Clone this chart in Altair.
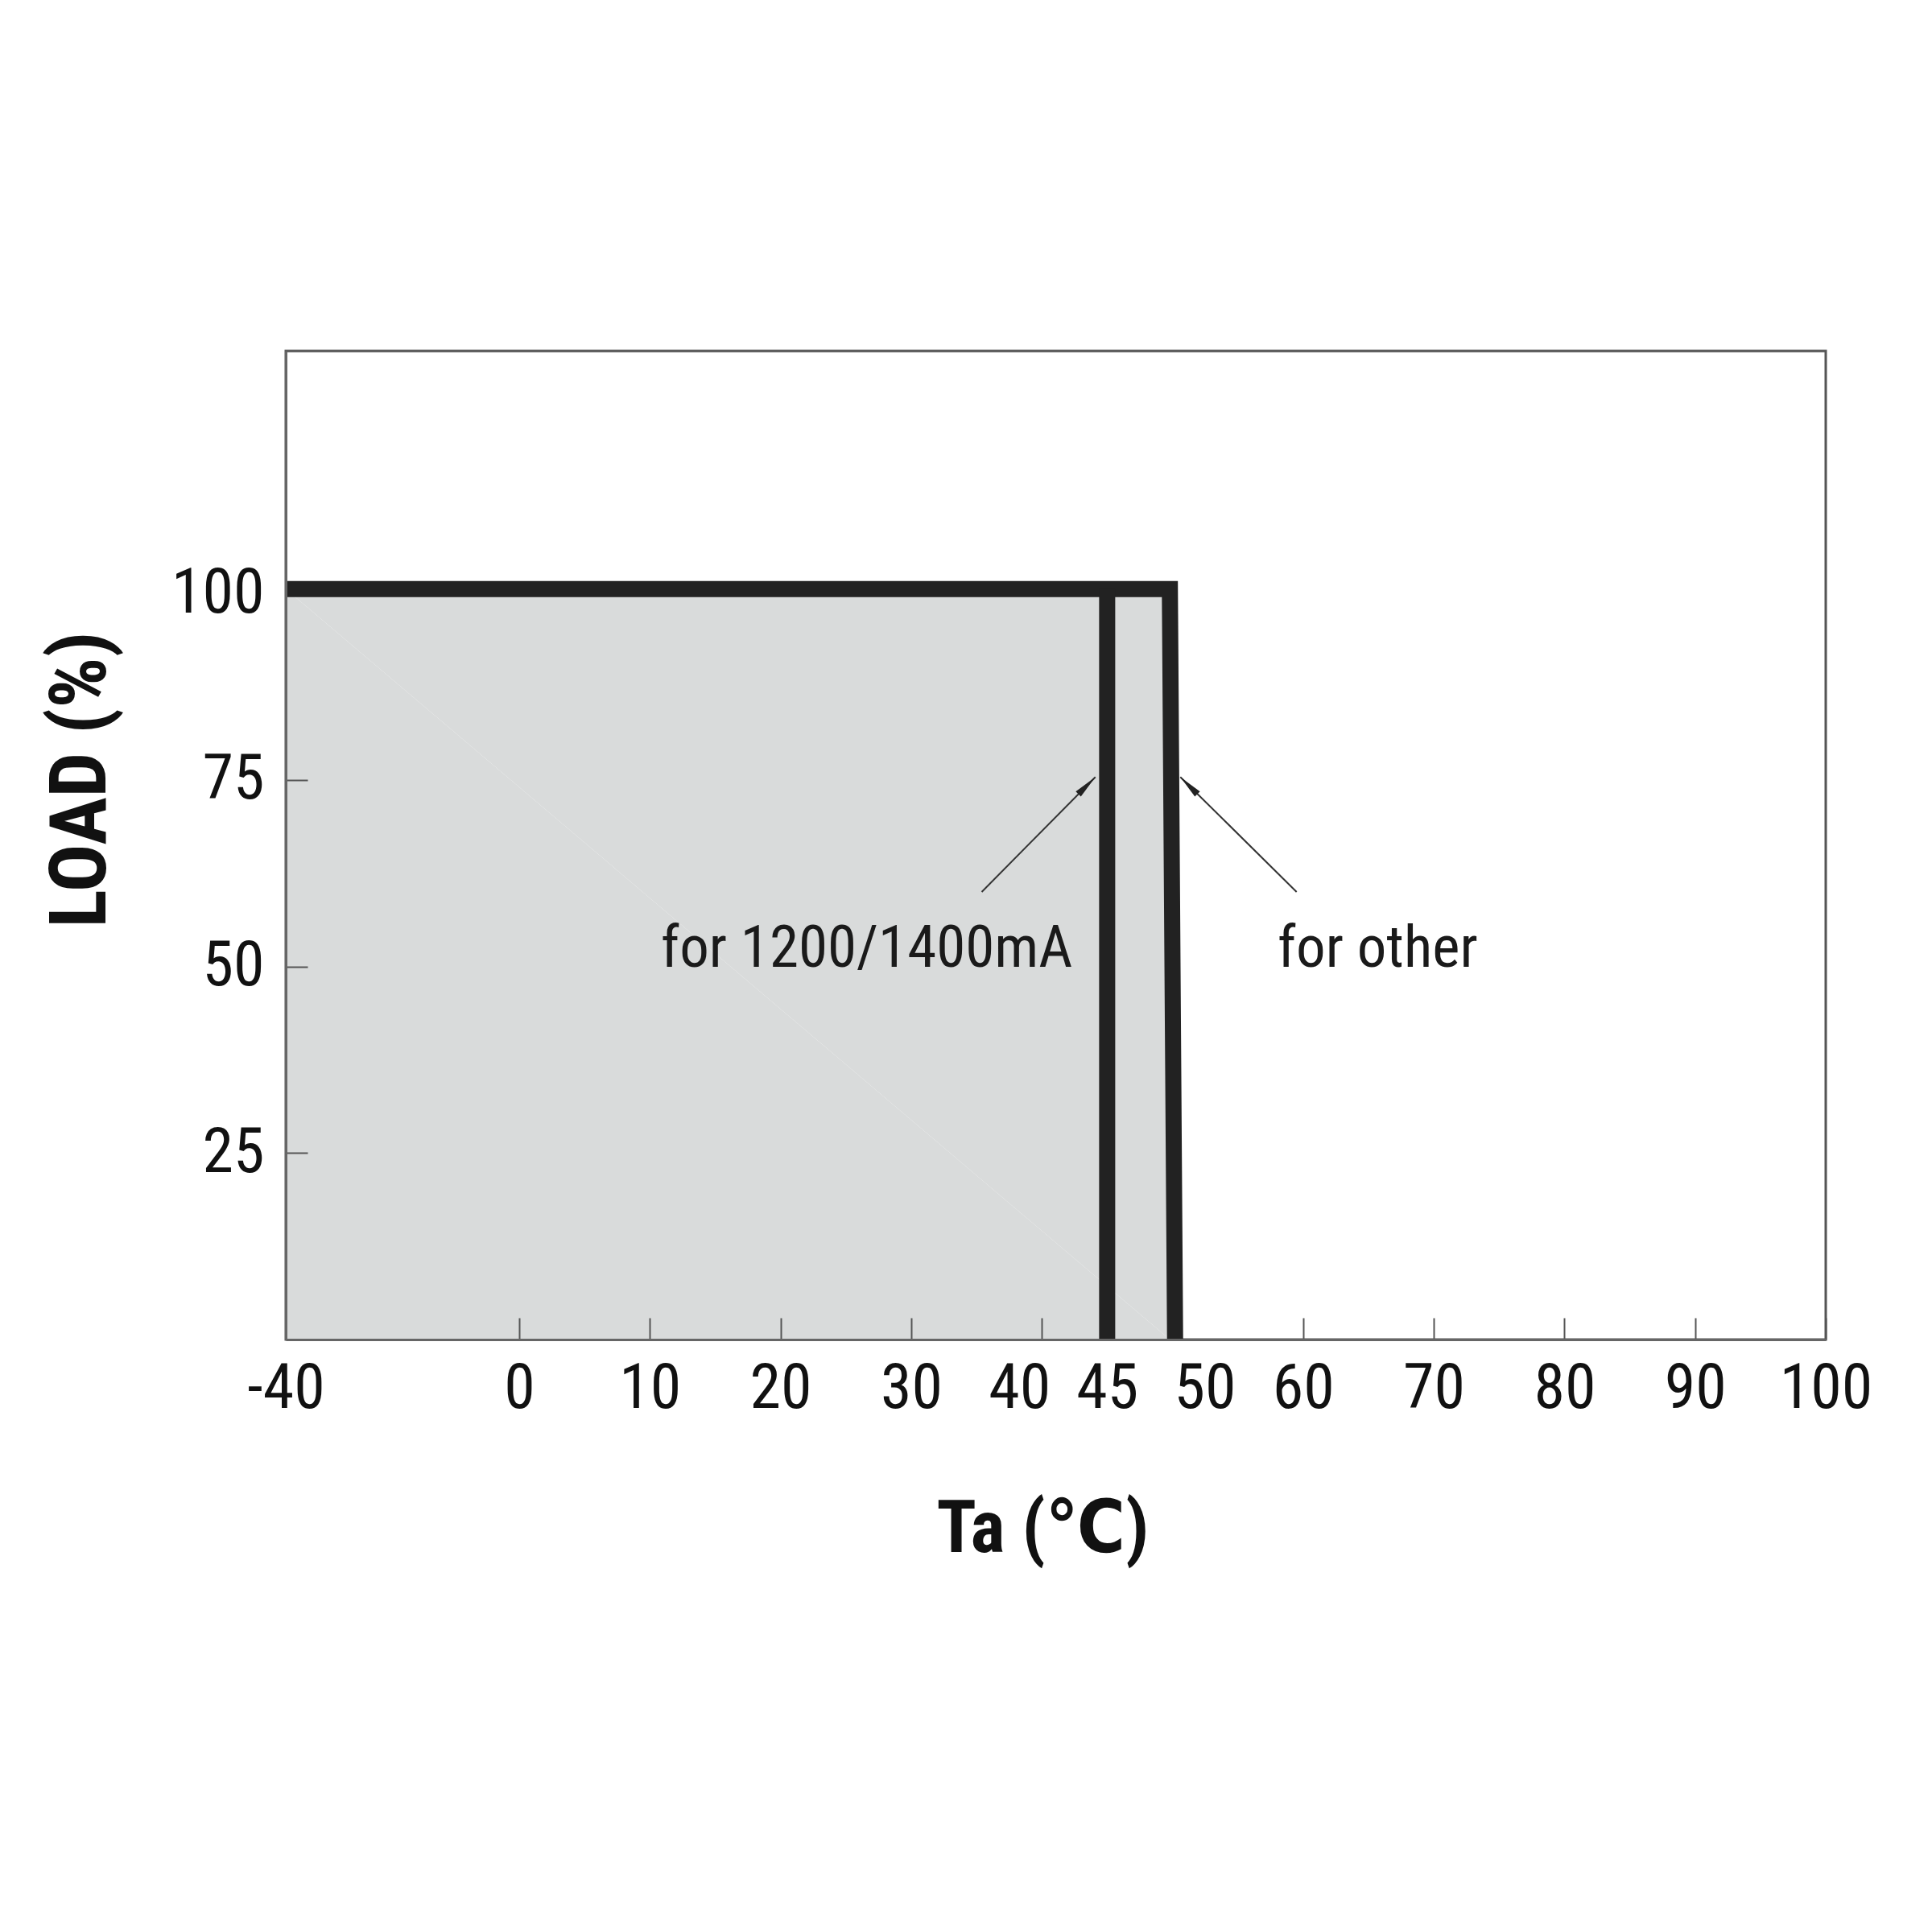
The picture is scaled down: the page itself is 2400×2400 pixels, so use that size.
import altair as alt
import pandas as pd

# ---- data ----
x_ticks = [-40, 0, 10, 20, 30, 40, 45, 50, 60, 70, 80, 90, 100]
y_ticks = [25, 50, 75, 100]

other_ta = [-40, 49.8, 50.2]
other_load = [100.6, 100.6, 0]
ma_ta = [45, 45]
ma_load = [100.6, 0]

arrow_tail_ta = [35.4, 59.5]
arrow_tail_load = [60, 60]
arrow_tip_ta = [44.1, 50.6]
arrow_tip_load = [75.4, 75.4]
arrow_angle = [45, 315]

label_text = ["for 1200/1400mA", "for other"]
label_ta = [26.6, 65.7]
label_load = [50, 50]

# ---- layout ----
W, H = 1913, 1228
FONT = "Liberation Sans Narrow, Roboto Condensed, DejaVu Sans Condensed, Liberation Sans, Noto Sans CJK SC, sans-serif"
LINE = "#222222"

xscale = alt.Scale(domain=[-40, 0, 100], range=[0, 290, W], nice=False, zero=False)
yscale = alt.Scale(domain=[0, 132.5], nice=False, zero=False)

xaxis = alt.Axis(
    values=x_ticks, labelExpr="datum.value + ''", title="Ta (℃)",
    labelOverlap=False, labelFlush=False, labelBound=False,
    labelOffset={"condition": [{"test": "datum.value == 40", "value": -28},
                               {"test": "datum.value == 50", "value": 40}],
                 "value": 0},
    tickOpacity={"condition": {"test": "datum.value == 45 || datum.value == 50", "value": 0},
                 "value": 1},
    tickSize=alt.ExprRef(expr="-27"), labelPadding=49, zindex=1,
    titleX=940, titleY=263, titleAlign="center", titleBaseline="alphabetic",
    titleFontSize=91, titleFontWeight="bold",
)
yaxis = alt.Axis(
    values=y_ticks, labelExpr="datum.value + ''", title="LOAD (%)",
    labelOverlap=False, labelFlush=False, labelBound=False,
    tickOpacity={"condition": {"test": "datum.value == 100", "value": 0}, "value": 1},
    tickSize=alt.ExprRef(expr="-27"), labelPadding=54, zindex=1,
    titleAngle=270, titleX=-225, titleY=532, titleAlign="center",
    titleBaseline="alphabetic", titleFontSize=99, titleFontWeight="bold",
)

def X(field="ta"):
    return alt.X(f"{field}:Q", scale=xscale, axis=xaxis)

def Y(field="load"):
    return alt.Y(f"{field}:Q", scale=yscale, axis=yaxis)

other_df = pd.DataFrame({"ta": other_ta, "load": other_load, "i": range(len(other_ta))})
ma_df = pd.DataFrame({"ta": ma_ta, "load": ma_load, "i": range(len(ma_ta))})
arrow_df = pd.DataFrame({"ta": arrow_tail_ta, "load": arrow_tail_load,
                         "ta2": arrow_tip_ta, "load2": arrow_tip_load})
head_df = pd.DataFrame({"ta": arrow_tip_ta, "load": arrow_tip_load, "angle": arrow_angle})
text_df = pd.DataFrame({"ta": label_ta, "load": label_load, "txt": label_text})

area = alt.Chart(other_df).mark_area(color="#d9dbdb", opacity=1).encode(
    x=X(), y=Y(), order="i:O")

line_other = alt.Chart(other_df).mark_line(
    color=LINE, strokeWidth=20, strokeJoin="miter", strokeCap="butt").encode(
    x=X(), y=Y(), order="i:O")

line_ma = alt.Chart(ma_df).mark_line(
    color=LINE, strokeWidth=20, strokeJoin="miter", strokeCap="butt").encode(
    x=X(), y=Y(), order="i:O")

arrows = alt.Chart(arrow_df).mark_rule(color="#333333", strokeWidth=2).encode(
    x=X(), y=Y(), x2="ta2:Q", y2="load2:Q")

heads = alt.Chart(head_df).mark_point(
    shape="M0,0L0.3,2L-0.3,2Z", size=900, filled=True, color="#222222", opacity=1).encode(
    x=X(), y=Y(), angle=alt.Angle("angle:Q", scale=None))

texts = alt.Chart(text_df).mark_text(
    font=FONT, fontSize=73, color="#1a1a1a", align="center", baseline="alphabetic").encode(
    x=X(), y=Y(), text="txt:N")

chart = alt.layer(area, line_other, line_ma, arrows, heads, texts).properties(
    width=W, height=H,
    autosize=alt.AutoSizeParams(type="none"),
    padding={"left": 347, "top": 428, "right": 124, "bottom": 700},
    background="white",
).configure_axis(
    grid=False,
    domainColor="#666666", domainWidth=3,
    tickColor="#555555", tickWidth=2,
    labelFont=FONT, labelFontSize=78, labelColor="#111111",
    titleFont=FONT, titleColor="#111111",
).configure_view(stroke="#555555", strokeWidth=3)

chart.save("out.html", embed_options={"renderer": "svg", "actions": False})
